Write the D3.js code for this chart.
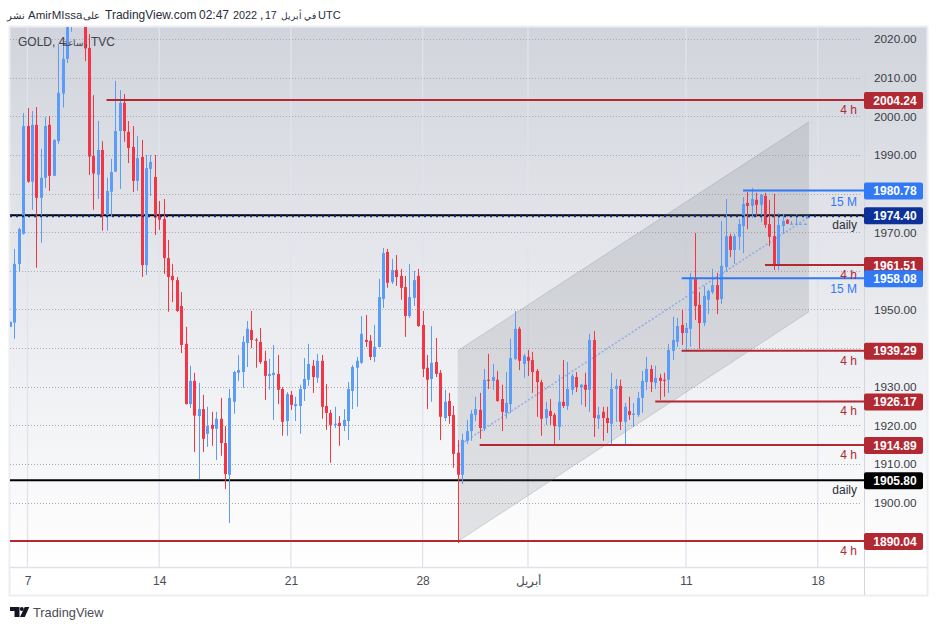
<!DOCTYPE html>
<html lang="en">
<head>
<meta charset="UTF-8">
<script src="https://cdn.jsdelivr.net/npm/d3@7"></script>
<title>GOLD 4h</title>
<style>
    body { margin: 0; background: #fff; }
    svg text { font-family: "Liberation Sans", sans-serif; }
    .price-axis text { font-size: 11.8px; fill: #3b3d45; }
    .time-axis text { font-size: 12px; fill: #4a4c55; }
    .price-axis path, .time-axis path { display: none; }
</style>
</head>
<body>
<svg id="chart" width="938" height="630"></svg>
<script>
var opens = [
    1945.5,1946.6,1961.8,1969.6,1997.5,1983.1,1997.8,1978.9,1984.1,1997.8,
    1984.6,1993.6,2005.9,2014.9,2026,2030,2033,2027,2017.7,1989.7,
    1984.9,1991.3,1974.5,1980.5,1985.7,1996.2,2003.5,1996,1992.1,1983.3,
    1989.5,1961.5,1986.4,1984.3,1974.2,1973.4,1963.3,1958.7,1957.6,1950.9,
    1941.1,1925.5,1931.5,1922.4,1924.2,1917.8,1920.1,1919.1,1921.7,1915.4,
    1907.2,1926.1,1933.6,1933.8,1941.3,1944.7,1942.2,1941.6,1936.7,1932.8,
    1933,1933.3,1929.4,1921.1,1927.9,1925,1925,1929.4,1931.8,1935.4,
    1932.3,1936.7,1925,1923.2,1920.1,1920.6,1919.8,1921.1,1928.9,1934.9,
    1936.2,1942.1,1941.9,1937.7,1940.3,1952.7,1964.9,1957.1,1960.2,1958.7,
    1955.8,1948.3,1953,1958.7,1946,1934.9,1932,1936.4,1933.6,1921.9,
    1926.3,1922.7,1912.9,1907.2,1916,1918.5,1922.7,1924,1919.1,1931.8,
    1931.5,1931.8,1926.8,1923.2,1925.5,1937.2,1945,1935.9,1937.7,1936.9,
    1934.1,1931.2,1921.9,1923.7,1922.7,1919.6,1926.1,1925,1929.2,1932.5,
    1929.9,1930.5,1929.2,1942.1,1921.7,1923.5,1921.9,1920.4,1929.4,1930.2,
    1920.9,1923.7,1922.7,1922.7,1927.1,1931.2,1934.6,1931,1932.3,1931.8,
    1931.8,1939.3,1941.6,1946,1943.9,1945,1958.2,1951.2,1946.5,1952.5,
    1954.5,1956.3,1952.7,1961,1969,1965.4,1968.8,1971.6,1977.6,1976.8,
    1978.4,1977.1,1979.4,1972.1,1969,1961.5,1971.6,1973.2,1972.1,1972.1,
    1972.1,1972.1
];
var highs = [
    1946.8,1965.7,1971.2,2000.9,2002.2,2001.4,2002.4,1991.6,1999.8,2000.1,
    1994.1,2018.7,2019.8,2030,2032,2034,2036,2029,2021.3,2005.5,
    1998.8,1993.6,1984.1,1989,2009.2,2006.8,2005.8,1998.8,1997.5,1994.9,
    1993.9,1990,1990,1990,1978.1,1978.6,1968,1961.8,1958.4,1954.5,
    1945.5,1935.4,1933.6,1931,1927.9,1924.8,1923.5,1923.5,1927.1,1919.8,
    1929.4,1934.1,1938.2,1943.1,1947,1949.6,1942.6,1945.2,1939.3,1937.2,
    1940.8,1938.2,1929.9,1928.6,1928.9,1927.4,1930.5,1937.4,1941.1,1936.9,
    1938.5,1938.2,1930.7,1924,1924.8,1922.4,1924.2,1931.2,1935.6,1937.7,
    1948.3,1948.6,1943.4,1946,1957.9,1965.9,1965.7,1963.1,1964.1,1960.5,
    1958.7,1961.8,1960,1960.5,1949.6,1938.2,1945.7,1942.6,1934.3,1929.2,
    1928.4,1925,1916.2,1917.8,1921.4,1924,1927.4,1928.4,1934.6,1938.5,
    1935.9,1934.1,1930.5,1933.8,1942.4,1949.6,1945.5,1938.5,1939.5,1939,
    1934.6,1931.8,1926.1,1926.8,1923.2,1933.1,1936.9,1936.4,1933.3,1933.8,
    1930.7,1933.6,1943.7,1944.4,1924.8,1924.8,1924.8,1933.6,1932,1931.8,
    1925.8,1927.4,1925.8,1928.6,1934.1,1937.7,1935.6,1935.4,1933.3,1933.6,
    1941.1,1948.1,1947.8,1949.9,1946.5,1959.5,1969.8,1954.5,1956.1,1955.1,
    1960.5,1959.5,1972.9,1978.6,1969.6,1969.6,1973.4,1979.1,1980.4,1981.5,
    1980.2,1979.9,1980.2,1978.4,1979.9,1975,1974.7,1973.4,1972.9,1974.7,
    1972.2,1972.2
];
var lows = [
    1945.5,1942.4,1959.8,1969.4,1982.8,1975.8,1960.8,1967.3,1981.5,1980.7,
    1984.5,1992.9,2002.3,2013.8,2021.9,2025,2026,2014.3,1984.8,1975.8,
    1978.6,1970.4,1970.4,1974.2,1985.6,1981.2,1993.4,1987.9,1980.4,1980.7,
    1958.4,1958.9,1979.4,1969.3,1970.6,1959.2,1949.4,1951.9,1949.4,1938.7,
    1925.4,1924.5,1913.1,1906.1,1913.1,1914.4,1914.7,1911,1912.1,1903.5,
    1894.7,1923,1931.5,1929.7,1935.1,1940,1934.9,1935.9,1926.6,1929.2,
    1921.4,1925.5,1917.3,1917.3,1924,1921.1,1917.8,1926.3,1930.2,1928.4,
    1931,1921.7,1918.8,1910.3,1919.3,1914.7,1918.5,1916.2,1924.2,1924.8,
    1935.9,1940.3,1936.9,1936.4,1940.2,1950.4,1955.6,1956.6,1956.1,1952.5,
    1942.9,1947.8,1950.9,1945.5,1932.5,1924.2,1926.1,1932.5,1916.2,1921.1,
    1920.4,1909,1889.5,1904.8,1915.2,1916,1921.1,1916.5,1918.5,1929.4,
    1929.2,1926.1,1918.5,1921.7,1923.2,1936.9,1934.3,1932.3,1932.8,1928.4,
    1922.2,1917.3,1920.1,1920.1,1915.2,1916.2,1924.5,1924,1927.9,1928.6,
    1925.3,1924.8,1923.5,1917,1919.1,1916,1918,1914.7,1920.9,1918.8,
    1914.7,1921.4,1919.6,1922.2,1923.2,1929.2,1928.6,1929.4,1926.6,1927.4,
    1928.4,1936.9,1940.3,1940.8,1939.3,1940.3,1947.3,1939.8,1945.7,1948.8,
    1954,1948.8,1951.4,1959.7,1963.6,1961.8,1965.4,1964.6,1970.8,1973.7,
    1974,1972.7,1971.1,1966.4,1960.2,1960.2,1969.6,1972.1,1972.1,1972.1,
    1972.1,1972.1
];
var closes = [
    1946.8,1961.8,1970.8,1997.5,1983.1,1997.8,1978.9,1984.1,1997.5,1984.6,
    1993.9,2006.1,2014.9,2026,2030,2033,2027,2017.6,1989.6,1985.2,
    1991.3,1974.5,1980.7,1985.6,1996.2,2003.5,1996.2,1991.8,1983.3,1989.2,
    1961.5,1986.6,1988.2,1973.8,1973.2,1963.3,1958.4,1957.6,1949.6,1940.8,
    1925.5,1931.5,1922.5,1924.2,1916.5,1919.8,1919.1,1921.7,1915.4,1907.4,
    1927.1,1933.8,1934.3,1941.6,1945,1942.1,1941.9,1936.4,1932.8,1933.3,
    1933.6,1929.2,1920.9,1928.1,1925.3,1925.5,1929.4,1932,1935.9,1932.5,
    1936.7,1924.8,1923.2,1920.1,1920.4,1919.8,1921.4,1929.4,1935.1,1936.7,
    1943.7,1941.6,1937.7,1940.3,1953.2,1964.6,1956.9,1960.2,1958.4,1955.6,
    1948.3,1953.2,1957.6,1945.7,1934.6,1931.8,1936.2,1933.3,1922.2,1926.1,
    1922.4,1912.6,1907.2,1916.2,1918.5,1923,1924.2,1919.3,1931.8,1931.5,
    1932.5,1926.3,1923.5,1925.8,1937.4,1945,1936.7,1938,1936.7,1933.8,
    1931.2,1921.7,1924.2,1922.4,1919.8,1926.1,1925,1929.4,1932.8,1929.9,
    1930.5,1929.2,1942.1,1921.9,1922.7,1921.9,1920.6,1929.4,1930.2,1920.9,
    1924.8,1922.7,1923,1927.1,1931.5,1934.6,1931.2,1932.3,1931.5,1931.5,
    1939.5,1942.1,1945.7,1943.9,1945.2,1958.2,1950.9,1946.5,1953.5,1954.8,
    1956.3,1952.5,1961.3,1969,1965.4,1969,1972.1,1977.3,1976.8,1978.6,
    1977.1,1979.7,1971.9,1968.8,1961.3,1971.9,1972.9,1972.2,1972.2,1972.2,
    1972.2,1972.2
];

// bar index of each date label on the time axis
var dateBars = [4, 34, 64, 94, 118, 154, 184];
var dateLabels = ["7", "14", "21", "28", "أبريل", "11", "18"];

var gridPrices = [1900,1910,1920,1930,1940,1950,1960,1970,1980,1990,2000,2010,2020];
var shownPrices = [1900,1910,1920,1930,1950,1970,1990,2000,2010,2020];

// horizontal levels: price, first bar, tag
var redPrices = [2004.24, 1961.51, 1939.29, 1926.17, 1914.89, 1890.04];
var redStarts = [22, 172, 153, 147, 107, 0];
var bluePrices = [1980.78, 1958.08];
var blueStarts = [167, 153];
var blackPrices = [1974.40, 1905.80];

// channel drawn on the chart
var channelBars = [102, 182];
var channelTop = [1939.3, 1998.6];
var channelMid = [1914.6, 1974.0];
var channelBottom = [1889.9, 1949.4];

var RED = "#f23645", BLUE = "#5b9cf6", LEVEL_RED = "#b22833", LEVEL_BLUE = "#3179f5", NAVY = "#0c3299";

var svg = d3.select("#chart");
var left = 10, right = 864, top_ = 27, bottom = 567;

var x = d3.scaleLinear().domain([0, 194.5]).range([9.94, 863.8]);
var y = d3.scaleLinear().domain([1890.04, 2004.24]).range([541, 100]);

var defs = svg.append("defs");
var grad = defs.append("linearGradient").attr("id", "bg")
    .attr("x1", 0).attr("y1", 0).attr("x2", 0).attr("y2", 1);
grad.append("stop").attr("offset", 0).attr("stop-color", "#d1d4dc");
grad.append("stop").attr("offset", 1).attr("stop-color", "#ffffff");
defs.append("clipPath").attr("id", "plot").append("rect")
    .attr("x", left).attr("y", top_).attr("width", right - left).attr("height", bottom - top_);

// background and frame
svg.append("rect").attr("x", 10).attr("y", top_).attr("width", 917).attr("height", bottom - top_).attr("fill", "url(#bg)");
svg.append("rect").attr("x", 9.5).attr("y", 26.5).attr("width", 918).attr("height", 569)
    .attr("fill", "none").attr("stroke", "#eceef3").attr("stroke-width", 2);
svg.append("line").attr("x1", 10).attr("x2", 927).attr("y1", bottom + 0.5).attr("y2", bottom + 0.5)
    .attr("stroke", "#e0e3eb").attr("stroke-width", 1.5);
svg.append("line").attr("x1", right + 0.5).attr("x2", right + 0.5).attr("y1", top_).attr("y2", 595)
    .attr("stroke", "#d3d6dd").attr("stroke-width", 1);

var plot = svg.append("g").attr("clip-path", "url(#plot)");

// grid
plot.selectAll(".vgrid").data(dateBars).enter().append("line")
    .attr("x1", function(d) { return x(d); })
    .attr("x2", function(d) { return x(d); })
    .attr("y1", top_).attr("y2", bottom)
    .attr("stroke", "#e0e3eb").attr("stroke-width", 1.3);
plot.selectAll(".hgrid").data(gridPrices).enter().append("line")
    .attr("x1", left).attr("x2", right - 2)
    .attr("y1", function(d) { return Math.round(y(d)) + 0.5; })
    .attr("y2", function(d) { return Math.round(y(d)) + 0.5; })
    .attr("stroke", "#a9abb3").attr("stroke-width", 1).attr("stroke-dasharray", "1,2");

// the black levels sit under the channel
plot.selectAll(".black").data(blackPrices).enter().append("line")
    .attr("x1", left).attr("x2", right)
    .attr("y1", function(d) { return y(d); })
    .attr("y2", function(d) { return y(d); })
    .attr("stroke", "#000").attr("stroke-width", 2);

// channel
var band = d3.area()
    .x(function(d) { return x(d.bar); })
    .y0(function(d) { return y(d.low); })
    .y1(function(d) { return y(d.high); });
var channelData = channelBars.map(function(b, i) {
    return { bar: b, low: channelBottom[i], mid: channelMid[i], high: channelTop[i] };
});
plot.append("path").attr("d", band(channelData))
    .attr("fill", "#787b86").attr("fill-opacity", 0.2);
var edge = function(key) {
    return d3.line().x(function(d) { return x(d.bar); }).y(function(d) { return y(d[key]); })(channelData);
};
plot.append("path").attr("d", edge("high")).attr("fill", "none").attr("stroke", "#787b86").attr("stroke-opacity", 0.25);
plot.append("path").attr("d", edge("low")).attr("fill", "none").attr("stroke", "#787b86").attr("stroke-opacity", 0.25);
plot.append("path").attr("d", edge("mid")).attr("fill", "none")
    .attr("stroke", "#7f9ff0").attr("stroke-opacity", 0.8).attr("stroke-width", 1.5).attr("stroke-dasharray", "2,2");
plot.append("rect")
    .attr("x", x(channelBars[1]) - 3).attr("y", y(channelMid[1]) - 1)
    .attr("width", 3.5).attr("height", 2.5).attr("fill", BLUE);

// candles
var candles = plot.selectAll(".candle").data(d3.range(opens.length)).enter().append("g");
candles.append("rect")
    .attr("x", function(i) { return Math.round(x(i)); })
    .attr("width", 1)
    .attr("y", function(i) { return y(highs[i]); })
    .attr("height", function(i) { return y(lows[i]) - y(highs[i]); })
    .attr("fill", function(i) { return closes[i] >= opens[i] ? BLUE : RED; });
candles.append("rect")
    .attr("x", function(i) { return Math.round(x(i)) - 1; })
    .attr("width", 3)
    .attr("y", function(i) { return y(Math.max(opens[i], closes[i])); })
    .attr("height", function(i) { return Math.max(1, Math.abs(y(opens[i]) - y(closes[i]))); })
    .attr("fill", function(i) { return closes[i] >= opens[i] ? BLUE : RED; });

// levels over the candles
function levels(prices, starts, color) {
    plot.selectAll(null).data(prices).enter().append("line")
        .attr("x1", function(d, i) { return x(starts[i]); })
        .attr("x2", right)
        .attr("y1", function(d) { return y(d); })
        .attr("y2", function(d) { return y(d); })
        .attr("stroke", color).attr("stroke-width", 2);
}
levels(redPrices, redStarts, LEVEL_RED);
levels(bluePrices, blueStarts, LEVEL_BLUE);
plot.append("line").attr("x1", left).attr("x2", right)
    .attr("y1", y(blackPrices[0]) + 1).attr("y2", y(blackPrices[0]) + 1)
    .attr("stroke", NAVY).attr("stroke-width", 2).attr("stroke-dasharray", "2,4");

// tags above the axis
function tags(prices, text, color, dy) {
    svg.selectAll(null).data(prices).enter().append("text")
        .attr("x", 857).attr("y", function(d) { return y(d) + dy; })
        .attr("text-anchor", "end").attr("font-size", 12).attr("fill", color)
        .text(text);
}
tags(redPrices, "4 h", LEVEL_RED, 14);
tags(bluePrices, "15 M", LEVEL_BLUE, 15);
tags(blackPrices, "daily", "#2a2e39", 14);

// axes
svg.append("g").attr("class", "price-axis")
    .attr("transform", "translate(" + 874 + ",0)")
    .call(d3.axisRight(y).tickValues(shownPrices).tickSize(0).tickPadding(0).tickFormat(d3.format(".2f")));
svg.append("g").attr("class", "time-axis")
    .attr("transform", "translate(0," + 572 + ")")
    .call(d3.axisBottom(x).tickValues(dateBars).tickSize(0).tickPadding(4)
        .tickFormat(function(d, i) { return dateLabels[i]; }));

// price labels on the axis
function priceLabels(prices, color) {
    var g = svg.selectAll(null).data(prices).enter().append("g");
    g.append("rect").attr("x", 864).attr("width", 59).attr("height", 17).attr("rx", 2)
        .attr("y", function(d) { return y(d) - 8; })
        .attr("fill", color);
    g.append("text").attr("x", 895).attr("y", function(d) { return y(d) + 4.5; })
        .attr("text-anchor", "middle").attr("font-size", 12).attr("font-weight", "bold").attr("fill", "#fff")
        .text(function(d) { return d.toFixed(2); });
}
priceLabels(redPrices, LEVEL_RED);
priceLabels(bluePrices, LEVEL_BLUE);
priceLabels([blackPrices[0]], NAVY);
priceLabels([blackPrices[1]], "#000");

// chart title
var legend = svg.append("g").attr("font-size", 12).attr("fill", "#3f414a");
legend.append("text").attr("x", 18).attr("y", 46).text("GOLD, 4");
legend.append("text").attr("x", 84).attr("y", 46).attr("text-anchor", "end").attr("font-size", 8.6).text("ساعة");
legend.append("text").attr("x", 84.5).attr("y", 46).text(", TVC");

// header line
var headerText = ["نشر", "AmirMIssa", "على", "TradingView.com", "02:47", "2022", ",", "17", "في أبريل", "UTC"];
var headerX = [25, 28, 100, 105, 199, 233, 260, 265, 316, 318];
var headerAnchor = ["end", "start", "end", "start", "start", "start", "start", "start", "end", "start"];
var headerSize = [10, 11.5, 10, 12, 12, 10.8, 12, 10.5, 8.6, 11];
svg.append("g").selectAll("text").data(headerText).enter().append("text")
    .attr("x", function(d, i) { return headerX[i]; })
    .attr("y", 19)
    .attr("text-anchor", function(d, i) { return headerAnchor[i]; })
    .attr("font-size", function(d, i) { return headerSize[i]; }).attr("fill", "#2a2e39")
    .text(function(d) { return d; });

// logo
var logo = svg.append("g").attr("fill", "#131722");
logo.append("path").attr("d", "M10 607h9.5v10h-5v-6h-4.5z");
logo.append("circle").attr("cx", 21.8).attr("cy", 609).attr("r", 2);
logo.append("path").attr("d", "M24.7 607h4.6l-4.5 10h-4.8z");
svg.append("text").attr("x", 33).attr("y", 617).attr("font-size", 12.8).attr("fill", "#4a4c55").text("TradingView");
</script>
</body>
</html>
